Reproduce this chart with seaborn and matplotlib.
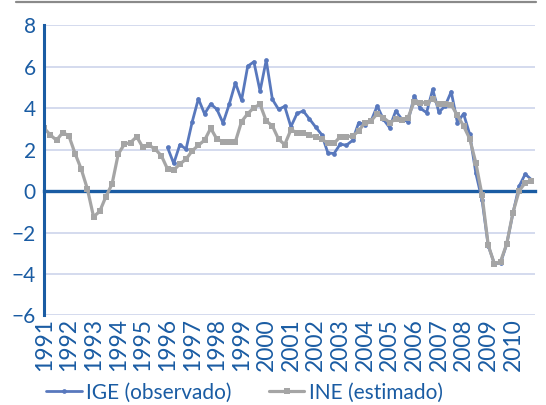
import numpy as np
import pandas as pd
import matplotlib
matplotlib.use("Agg")
import matplotlib.pyplot as plt
import seaborn as sns

# Data: quarterly series, 1991Q1 - 2010Q4
years = list(range(1991, 2011))
ine = [3.03, 2.70, 2.45, 2.82, 2.66, 1.81, 1.06, 0.10, -1.24, -0.98,
       -0.27, 0.34, 1.78, 2.26, 2.34, 2.62, 2.10, 2.21, 2.02, 1.70,
       1.06, 1.01, 1.30, 1.54, 1.94, 2.21, 2.45, 3.03, 2.50, 2.38,
       2.38, 2.38, 3.35, 3.73, 4.02, 4.18, 3.38, 3.14, 2.50, 2.24,
       2.95, 2.82, 2.80, 2.70, 2.60, 2.50, 2.30, 2.30, 2.62, 2.62,
       2.65, 2.90, 3.30, 3.38, 3.73, 3.54, 3.30, 3.46, 3.41, 3.54,
       4.31, 4.26, 4.26, 4.42, 4.18, 4.18, 4.16, 3.65, 3.14, 2.52,
       1.35, -0.20, -2.60, -3.52, -3.40, -2.55, -1.05, 0.00, 0.40, 0.48]
# IGE starts in 1996Q1
ige = [2.10, 1.33, 2.24, 2.02, 3.34, 4.45, 3.72, 4.20, 3.94, 3.28,
       4.18, 5.22, 4.38, 6.02, 6.23, 4.82, 6.31, 4.42, 3.94, 4.08,
       3.10, 3.74, 3.86, 3.48, 3.09, 2.72, 1.84, 1.81, 2.26, 2.21,
       2.44, 3.30, 3.20, 3.38, 4.10, 3.46, 3.06, 3.86, 3.46, 3.35,
       4.58, 3.99, 3.78, 4.90, 3.80, 4.10, 4.79, 3.30, 3.73, 2.74,
       0.85, -0.43, -2.63, -3.50, -3.47, -2.55, -1.08, 0.22, 0.82, 0.55]

q = np.arange(len(ine))
df = pd.DataFrame({"q": q, "INE (estimado)": ine,
                   "IGE (observado)": [np.nan] * (len(ine) - len(ige)) + ige})

sns.set_style("white")
plt.rcParams['font.family'] = ['Lato', 'DejaVu Sans']

navy = "#1a5ca3"
blue = "#5878bd"
grey = "#a5a5a5"

fig = plt.figure(figsize=(5.46, 4.05), dpi=100)
ax = fig.add_axes([0.081, 0.221, 0.899, 0.717])

sns.lineplot(data=df, x="q", y="IGE (observado)", ax=ax, color=blue, lw=2.0,
             marker="o", markersize=3.4, markeredgewidth=0,
             label="IGE (observado)")
sns.lineplot(data=df, x="q", y="INE (estimado)", ax=ax, color=grey, lw=2.3,
             marker="s", markersize=4.6, markeredgewidth=0,
             label="INE (estimado)")

ax.set_xlim(0, 79.6)
ax.set_ylim(-6, 8)
ax.set_yticks(range(-6, 9, 2))
ax.yaxis.grid(True, color="#c9d1e9", lw=1.1)
ax.set_axisbelow(True)

for s in ["top", "right"]:
    ax.spines[s].set_visible(False)
ax.spines["left"].set_color(navy)
ax.spines["left"].set_linewidth(2.2)
ax.spines["bottom"].set_position(("data", 0))
ax.spines["bottom"].set_color(navy)
ax.spines["bottom"].set_linewidth(2.4)
ax.spines["bottom"].set_zorder(1.5)

ax.set_xticks(q[::4])
ax.tick_params(axis="x", direction="out", length=5, width=1.3, color=navy,
               labelbottom=False)
ax.tick_params(axis="y", direction="out", length=4, width=1.3, color=navy,
               labelcolor=navy, labelsize=15, pad=2)
ax.set_xlabel("")
ax.set_ylabel("")

# year labels along the bottom edge
sec = ax.secondary_xaxis("bottom")
sec.set_xticks(q[::4])
sec.set_xticklabels([str(y) for y in years], rotation=90)
sec.tick_params(length=0, labelsize=16.5, labelcolor=navy, pad=2)
sec.spines["bottom"].set_visible(False)

ax.get_legend().remove()
h, l = ax.get_legend_handles_labels()
fig.legend(h, l, loc="lower left", bbox_to_anchor=(0.085, 0.006), ncol=2,
           frameon=False, fontsize=15, handlelength=1.7, handletextpad=0.2,
           columnspacing=1.8, borderpad=0, borderaxespad=0, labelcolor=navy)

# thin rule at the top of the figure
fig.add_artist(plt.Line2D([0.03, 0.982], [0.995, 0.995], color="#8a8a8a", lw=1.6))

fig.savefig("out.png", dpi=100)
